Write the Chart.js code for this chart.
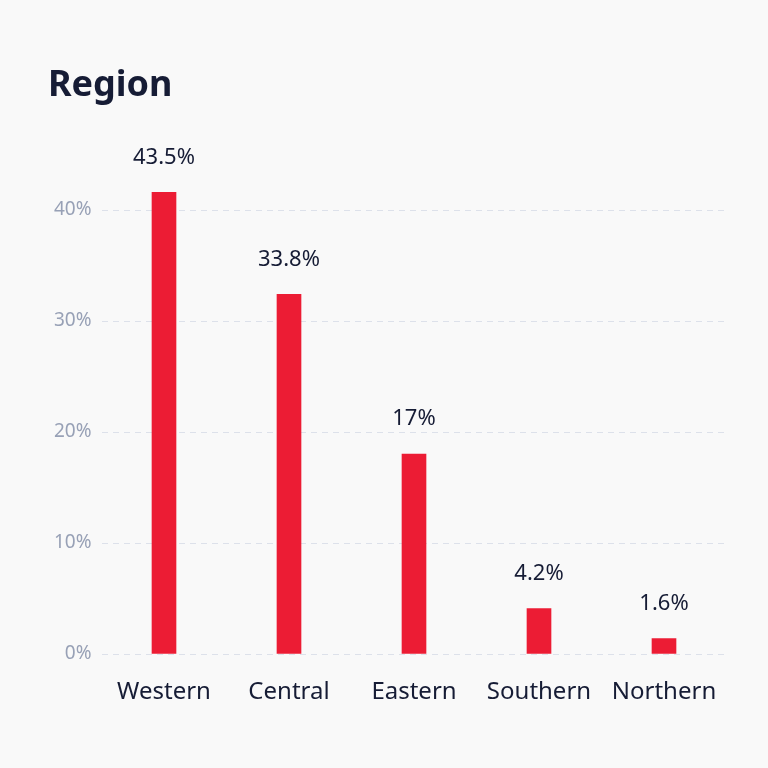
<!DOCTYPE html>
<html>
<head>
<meta charset="utf-8">
<script src="https://cdn.jsdelivr.net/npm/chart.js@4"></script>
<style>
  html, body { margin: 0; padding: 0; background: #f9f9f9; }
  #wrap { width: 768px; height: 768px; }
</style>
</head>
<body>
<div id="wrap"><canvas id="chart" width="768" height="768"></canvas></div>
<script>
const regions = ["Western", "Central", "Eastern", "Southern", "Northern"];
const barValues = [41.6, 32.4, 18.0, 4.1, 1.4];
const shareLabels = ["43.5%", "33.8%", "17%", "4.2%", "1.6%"];
const yTicks = [0, 10, 20, 30, 40];

const fontFamily = "'Noto Sans', sans-serif";
const textColor = "#161c35";
const tickColor = "#98a1b6";
const gridColor = "#dde1ea";
const barColor = "#ec1c34";

// draws the share text above each bar
const barLabels = {
    id: "barLabels",
    afterDatasetsDraw(chart) {
        const ctx = chart.ctx;
        const meta = chart.getDatasetMeta(0);
        ctx.save();
        ctx.font = "22px " + fontFamily;
        ctx.fillStyle = textColor;
        ctx.textAlign = "center";
        ctx.textBaseline = "middle";
        meta.data.forEach((bar, i) => {
            ctx.fillText(shareLabels[i], bar.x, bar.y - 35);
        });
        ctx.restore();
    }
};

new Chart(document.getElementById("chart"), {
    type: "bar",
    data: {
        labels: regions,
        datasets: [{
            data: barValues,
            backgroundColor: barColor,
            barThickness: 24
        }]
    },
    options: {
        responsive: false,
        animation: false,
        layout: {
            padding: { left: 48, right: 41.5, top: 0, bottom: 61.6 }
        },
        plugins: {
            legend: { display: false },
            tooltip: { enabled: false },
            title: {
                display: true,
                text: "Region",
                align: "start",
                color: textColor,
                font: { family: fontFamily, size: 36, weight: "bold", lineHeight: 1.2 },
                padding: { top: 64, bottom: 47.3 }
            }
        },
        scales: {
            x: {
                afterFit: s => { s.height = 52.4; },
                grid: { display: false, drawTicks: false },
                border: { display: false },
                ticks: {
                    color: textColor,
                    padding: 23.6,
                    maxRotation: 0,
                    font: { family: fontFamily, size: 24 }
                }
            },
            y: {
                min: 0,
                max: 45,
                afterFit: s => { s.width = 53.5; },
                afterBuildTicks: s => {
                    s.ticks = yTicks.map(v => ({ value: v }));
                },
                grid: {
                    color: gridColor,
                    drawTicks: false
                },
                border: { display: false, dash: [6, 5] },
                ticks: {
                    color: tickColor,
                    padding: 10,
                    font: { family: fontFamily, size: 19 },
                    callback: v => v + "%"
                }
            }
        }
    },
    plugins: [barLabels]
});
</script>
</body>
</html>
